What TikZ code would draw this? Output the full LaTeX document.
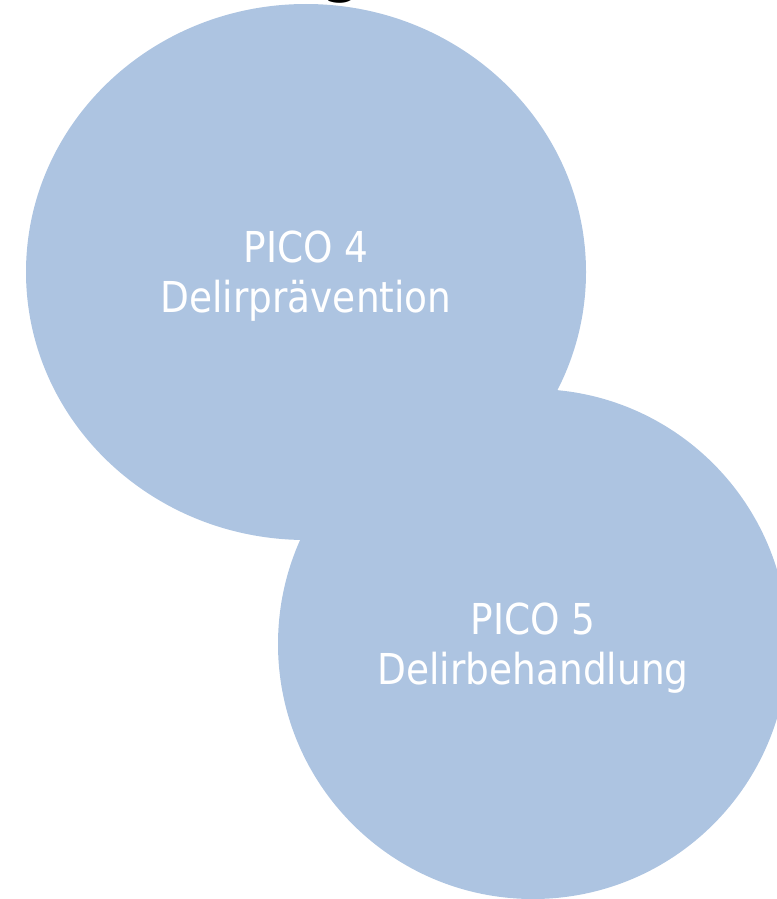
\documentclass[tikz,border=0pt]{standalone}
\usepackage{fontspec}
\setmainfont[FakeStretch=0.88]{DejaVu Sans}
\usetikzlibrary{shapes.geometric}
\definecolor{PicoClr}{RGB}{173,196,225}
\definecolor{TitleClr}{RGB}{0,0,0}

\begin{document}
\begin{tikzpicture}[x=1pt,y=-1pt]
\tikzset{picobubble/.style={ellipse,fill=PicoClr,inner sep=0pt,align=center,
    text=white,text depth=0pt,font=\fontsize{42.6}{50}\selectfont},
  headline/.style={inner sep=0pt,anchor=south,text=TitleClr,
    font=\bfseries\fontsize{64}{70}\selectfont}}
\useasboundingbox (0,0) rectangle (776,899);

\node[picobubble,minimum width=560pt,minimum height=536pt] (pico4) at (306,272) {PICO 4\\Delirprävention};
\node[picobubble,minimum width=510pt,minimum height=510pt] (pico5) at (533,644) {PICO 5\\Delirbehandlung};

\node[headline] (head) at (343,4) {g};

\end{tikzpicture}
\end{document}
